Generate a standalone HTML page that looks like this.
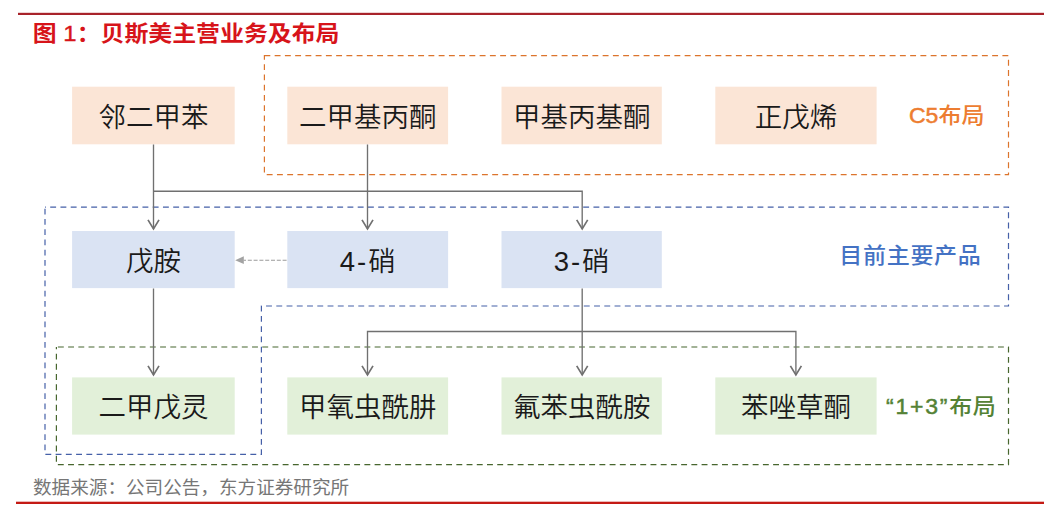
<!DOCTYPE html>
<html lang="zh-CN">
<head>
<meta charset="utf-8">
<title>图 1：贝斯美主营业务及布局</title>
<style>
html,body{margin:0;padding:0;background:#fff;}
body{width:1051px;height:520px;position:relative;overflow:hidden;
  font-family:"Liberation Sans","Noto Sans CJK SC",sans-serif;}
.title{position:absolute;left:32.8px;top:18.9px;transform:scaleY(0.92);transform-origin:0 50%;height:30px;line-height:30px;font-size:23.9px;font-weight:bold;color:#d7141a;white-space:nowrap;}
.box{position:absolute;width:162px;height:58px;line-height:62px;text-align:center;font-size:27.5px;font-weight:350;color:#1a1a1a;white-space:nowrap;overflow:hidden;}
.pre .n{font-weight:400;-webkit-text-stroke:0.4px currentColor;}
.ls{letter-spacing:2px;}
.lt{-webkit-text-stroke:0.5px currentColor;}
.lab{position:absolute;transform:scaleY(0.92);transform-origin:0 50%;font-weight:500;font-size:23px;white-space:nowrap;line-height:30px;height:30px;}
.src{position:absolute;left:33px;top:476px;font-size:18.6px;line-height:24px;color:#767676;white-space:nowrap;}
svg{position:absolute;left:0;top:0;}
</style>
</head>
<body>
<div class="title"><span class="pre">图 <span class="n">1</span>：</span>贝斯美主营业务及布局</div>

<svg width="1051" height="520" viewBox="0 0 1051 520" fill="none">
  <!-- top and bottom rules -->
  <rect x="18" y="12.8" width="1026" height="2.2" fill="#a8232a"/>
  <rect x="16" y="501.7" width="1028" height="2.3" fill="#c41a14"/>
  <!-- filled boxes -->
  <rect x="72.1" y="86.7" width="162.6" height="57.6" fill="#fbe5d6"/>
  <rect x="287.3" y="86.7" width="160.8" height="57.6" fill="#fbe5d6"/>
  <rect x="501.5" y="86.7" width="160.3" height="57.6" fill="#fbe5d6"/>
  <rect x="715.3" y="86.7" width="161.3" height="57.6" fill="#fbe5d6"/>
  <rect x="72.1" y="231.0" width="162.6" height="57.1" fill="#dae3f3"/>
  <rect x="287.3" y="231.0" width="160.8" height="57.1" fill="#dae3f3"/>
  <rect x="501.5" y="231.0" width="160.3" height="57.1" fill="#dae3f3"/>
  <rect x="72.1" y="377.4" width="162.6" height="57.2" fill="#e2f0d9"/>
  <rect x="287.3" y="377.4" width="160.8" height="57.2" fill="#e2f0d9"/>
  <rect x="501.5" y="377.4" width="160.3" height="57.2" fill="#e2f0d9"/>
  <rect x="715.3" y="377.4" width="161.3" height="57.2" fill="#e2f0d9"/>
  <!-- dashed regions -->
  <rect x="264.4" y="55.6" width="744.1" height="119" stroke="#dc742c" stroke-width="1.2" stroke-dasharray="5.9 4.35"/>
  <path d="M45 207.1H1008.5V306H261.4V454.3H45Z" stroke="#4560a8" stroke-width="1.2" stroke-dasharray="5.9 4.35" stroke-dashoffset="-5.2"/>
  <rect x="56.4" y="347" width="952.1" height="117.6" stroke="#47662e" stroke-width="1.2" stroke-dasharray="5.9 4.318" stroke-dashoffset="-1.5"/>
  <!-- connectors -->
  <g stroke="#707070" stroke-width="1.35">
    <path d="M153.5 144.5V229"/>
    <path d="M153.5 191.2H582.2V229"/>
    <path d="M367.5 144.5V229"/>
    <path d="M153.5 288.5V375"/>
    <path d="M582.2 288.5V375"/>
    <path d="M367.5 375V331.5H795.9V375"/>
  </g>
  <g stroke="#707070" stroke-width="1.7">
    <!-- arrow heads -->
    <path d="M148 219.9L153.5 228.9L159 219.9"/>
    <path d="M362 219.9L367.5 228.9L373 219.9"/>
    <path d="M576.7 219.9L582.2 228.9L587.7 219.9"/>
    <path d="M148 365.9L153.5 374.9L159 365.9"/>
    <path d="M362 365.9L367.5 374.9L373 365.9"/>
    <path d="M576.7 365.9L582.2 374.9L587.7 365.9"/>
    <path d="M790.4 365.9L795.9 374.9L801.4 365.9"/>
  </g>
  <path d="M287.3 260.2H243.5" stroke="#9a9a9a" stroke-width="1.1" stroke-dasharray="4 1.8" stroke-dashoffset="-0.7"/>
  <path d="M235.2 260.2L243.8 256.3V264.1Z" fill="#a3a3a3"/>
</svg>

<div class="box" style="left:72.40px;top:87px;">邻二甲苯</div>
<div class="box" style="left:286.70px;top:87px;">二甲基丙酮</div>
<div class="box" style="left:500.65px;top:87px;">甲基丙基酮</div>
<div class="box" style="left:714.95px;top:87px;">正戊烯</div>

<div class="box" style="left:72.40px;top:231px;">戊胺</div>
<div class="box" style="left:286.70px;top:231px;"><span class="ls">4-</span>硝</div>
<div class="box" style="left:500.65px;top:231px;"><span class="ls">3-</span>硝</div>

<div class="box" style="left:72.40px;top:377px;">二甲戊灵</div>
<div class="box" style="left:286.70px;top:377px;">甲氧虫酰肼</div>
<div class="box" style="left:500.65px;top:377px;">氟苯虫酰胺</div>
<div class="box" style="left:714.95px;top:377px;">苯唑草酮</div>

<div class="lab" style="left:909px;top:101px;color:#ed7d31;"><span class="lt">C5</span>布局</div>
<div class="lab" style="left:839.3px;top:241px;color:#4472c4;letter-spacing:0.7px;">目前主要产品</div>
<div class="lab" style="left:886px;top:392px;color:#548235;letter-spacing:0.35px;"><span class="lt" style="letter-spacing:1.8px;">“1+3”</span>布局</div>

<div class="src">数据来源：公司公告，东方证券研究所</div>
</body>
</html>
